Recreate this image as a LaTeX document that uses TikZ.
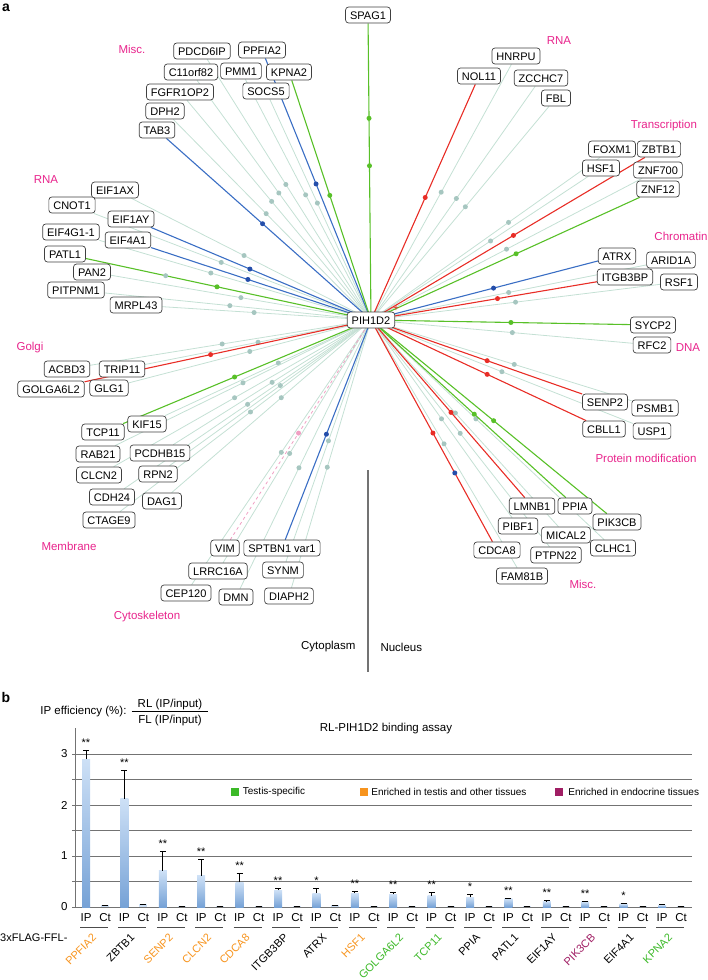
\documentclass[tikz,border=0pt]{standalone}
\usepackage{fontspec}
\setmainfont{Liberation Sans}
\usepackage{xcolor}
\definecolor{edgepale}{RGB}{196,224,212}
\definecolor{dotpale}{RGB}{166,198,192}
\definecolor{edgered}{RGB}{232,45,38}
\definecolor{edgeblue}{RGB}{58,110,196}
\definecolor{dotblue}{RGB}{36,78,170}
\definecolor{edgegreen}{RGB}{88,192,40}
\definecolor{edgepink}{RGB}{240,160,195}
\definecolor{catpink}{RGB}{232,36,140}
\definecolor{genorange}{RGB}{247,148,30}
\definecolor{gengreen}{RGB}{60,185,40}
\definecolor{genpurple}{RGB}{160,30,100}
\definecolor{barlight}{RGB}{205,224,246}
\definecolor{bardark}{RGB}{118,162,214}
\usetikzlibrary{backgrounds, positioning}

\begin{document}
\begin{tikzpicture}[x=1pt, y=-1pt,
    gene/.style={draw=black!75, line width=0.7pt, fill=white, rounded corners=3pt, font=\fontsize{11}{12}\selectfont, inner xsep=4.5pt, inner ysep=0pt, minimum height=16pt, text height=8pt, text depth=0pt},
    category/.style={text=catpink, font=\fontsize{11.5}{13}\selectfont},
    plain/.style={font=\fontsize{11.5}{13}\selectfont},
    paleline/.style={edgepale, line width=0.8pt},
    hitline/.style={line width=1.1pt},
    dot/.style={circle, inner sep=0pt, minimum size=5pt},
    gridline/.style={black!55, line width=0.8pt},
    errbar/.style={black, line width=0.9pt},
    legendbox/.style={minimum size=8pt, inner sep=0pt},
    legendtext/.style={font=\fontsize{10}{12}\selectfont, inner sep=0pt}
]
\useasboundingbox (0,0) rectangle (707,980);

%% panel a
\node[font=\bfseries\fontsize{14}{14}\selectfont] (panela) at (6,8) {a};

% hub
\node[gene] (hub) at (371,320) {PIH1D2};
\node[text=edgered, font=\fontsize{10}{10}\selectfont, inner sep=0pt] (plus) at (396,309) {+};

% top
\node[gene] (spag1) at (368,15) {SPAG1};
\node[gene] (pdcd6ip) at (202,51) {PDCD6IP};
\node[gene] (ppfia2) at (262,50) {PPFIA2};
\node[gene] (c11orf82) at (191,72) {C11orf82};
\node[gene] (pmm1) at (241,71) {PMM1};
\node[gene] (kpna2) at (289,72) {KPNA2};
\node[gene] (fgfr1op2) at (180,92) {FGFR1OP2};
\node[gene] (socs5) at (266,91) {SOCS5};
\node[gene] (dph2) at (165,111) {DPH2};
\node[gene] (tab3) at (157,130) {TAB3};

% left RNA
\node[gene] (eif1ax) at (115,190) {EIF1AX};
\node[gene] (cnot1) at (72,205) {CNOT1};
\node[gene] (eif1ay) at (131,219) {EIF1AY};
\node[gene] (eif4g1) at (71,232) {EIF4G1-1};
\node[gene] (eif4a1) at (128,240) {EIF4A1};
\node[gene] (patl1) at (65,254) {PATL1};
\node[gene] (pan2) at (92,272) {PAN2};
\node[gene] (pitpnm1) at (76,290) {PITPNM1};
\node[gene] (mrpl43) at (136,305) {MRPL43};

% Golgi and membrane
\node[gene] (acbd3) at (67,369) {ACBD3};
\node[gene] (trip11) at (122,369) {TRIP11};
\node[gene] (golga6l2) at (51,389) {GOLGA6L2};
\node[gene] (glg1) at (109,388) {GLG1};
\node[gene] (kif15) at (147,424) {KIF15};
\node[gene] (tcp11) at (103,432) {TCP11};
\node[gene] (rab21) at (98,454) {RAB21};
\node[gene] (pcdhb15) at (160,453) {PCDHB15};
\node[gene] (clcn2) at (99,475) {CLCN2};
\node[gene] (rpn2) at (158,474) {RPN2};
\node[gene] (cdh24) at (112,497) {CDH24};
\node[gene] (dag1) at (162,501) {DAG1};
\node[gene] (ctage9) at (109,520) {CTAGE9};

% cytoskeleton
\node[gene] (vim) at (225,548) {VIM};
\node[gene] (sptbn1) at (282,548) {SPTBN1 var1};
\node[gene] (lrrc16a) at (218,571) {LRRC16A};
\node[gene] (synm) at (283,570) {SYNM};
\node[gene] (cep120) at (186,593) {CEP120};
\node[gene] (dmn) at (236,597) {DMN};
\node[gene] (diaph2) at (289,596) {DIAPH2};

% right RNA, transcription, chromatin
\node[gene] (hnrpu) at (516,56) {HNRPU};
\node[gene] (nol11) at (479,76) {NOL11};
\node[gene] (zcchc7) at (541,78) {ZCCHC7};
\node[gene] (fbl) at (556,98) {FBL};
\node[gene] (foxm1) at (612,149) {FOXM1};
\node[gene] (zbtb1) at (659,149) {ZBTB1};
\node[gene] (hsf1) at (601,168) {HSF1};
\node[gene] (znf700) at (658,170) {ZNF700};
\node[gene] (znf12) at (658,189) {ZNF12};
\node[gene] (atrx) at (617,256) {ATRX};
\node[gene] (arid1a) at (671,260) {ARID1A};
\node[gene] (itgb3bp) at (625,277) {ITGB3BP};
\node[gene] (rsf1) at (679,282) {RSF1};

% DNA, protein modification, misc
\node[gene] (sycp2) at (653,325) {SYCP2};
\node[gene] (rfc2) at (652,345) {RFC2};
\node[gene] (senp2) at (605,402) {SENP2};
\node[gene] (psmb1) at (655,408) {PSMB1};
\node[gene] (cbll1) at (604,429) {CBLL1};
\node[gene] (usp1) at (652,431) {USP1};
\node[gene] (lmnb1) at (532,506) {LMNB1};
\node[gene] (ppia) at (575,506) {PPIA};
\node[gene] (pik3cb) at (617,522) {PIK3CB};
\node[gene] (pibf1) at (518,526) {PIBF1};
\node[gene] (mical2) at (566,535) {MICAL2};
\node[gene] (clhc1) at (613,548) {CLHC1};
\node[gene] (cdca8) at (497,550) {CDCA8};
\node[gene] (ptpn22) at (556,555) {PTPN22};
\node[gene] (fam81b) at (522,576) {FAM81B};

% categories
\node[category] (catmisca) at (132,49) {Misc.};
\node[category] (catrnaa) at (46,180) {RNA};
\node[category] (catgolgi) at (30,348) {Golgi};
\node[category] (catmembrane) at (69,546) {Membrane};
\node[category] (catcyto) at (147,617) {Cytoskeleton};
\node[category] (catrnab) at (559,41) {RNA};
\node[category] (cattrans) at (664,126) {Transcription};
\node[category] (catchrom) at (681,236) {Chromatin};
\node[category] (catdna) at (688,348) {DNA};
\node[category] (catprot) at (646,458) {Protein modification};
\node[category] (catmiscb) at (583,584) {Misc.};

% cytoplasm | nucleus
\draw[black!55, line width=1.2pt] (368,470) -- (368,672);
\node[plain, anchor=east] (cytoplasm) at (359,647) {Cytoplasm};
\node[plain, anchor=west] (nucleus) at (377,647) {Nucleus};

% connectors
\begin{pgfonlayer}{background}
\foreach \n/\p in {pdcd6ip/0.52, c11orf82/0.53, pmm1/0.52, fgfr1op2/0.54, socs5/0.53, dph2/0.53,
    eif1ax/0.53, cnot1/0.54, eif4g1/0.59, pan2/0.5, pitpnm1/0.53, mrpl43/0.56,
    acbd3/0.53, trip11/0.5, glg1/0.5, kif15/0.45, rab21/0.5, pcdhb15/0.5, clcn2/0.53,
    rpn2/0.45, cdh24/0.5, dag1/0.45, ctage9/0.48,
    lrrc16a/0.55, synm/0.5, cep120/0.5, dmn/0.55, diaph2/0.55,
    hnrpu/0.5, zcchc7/0.52, fbl/0.53, foxm1/0.6, hsf1/0.55, znf700/0.5,
    arid1a/0.5, rsf1/0.5, rfc2/0.54, psmb1/0.55, usp1/0.5,
    pibf1/0.5, mical2/0.45, clhc1/0.45, ptpn22/0.5, fam81b/0.5}
  \draw[paleline] (hub.center) -- (\n) node[pos=\p, dot, fill=dotpale] {};
\draw[edgepink, line width=0.8pt, dashed] (hub.center) -- (vim) node[pos=0.515, dot, fill=edgepink] {};
\foreach \n/\clr/\dclr/\p in {ppfia2/edgeblue/dotblue/0.52, kpna2/edgegreen/edgegreen/0.52,
    tab3/edgeblue/dotblue/0.53, eif1ay/edgeblue/dotblue/0.55, eif4a1/edgeblue/dotblue/0.56,
    golga6l2/edgered/edgered/0.56, tcp11/edgegreen/edgegreen/0.55, sptbn1/edgeblue/dotblue/0.52,
    nol11/edgered/edgered/0.52, zbtb1/edgered/edgered/0.52, znf12/edgegreen/edgegreen/0.54,
    atrx/edgeblue/dotblue/0.54, itgb3bp/edgered/edgered/0.56, sycp2/edgegreen/edgegreen/0.54,
    senp2/edgered/edgered/0.55, cbll1/edgered/edgered/0.54, lmnb1/edgered/edgered/0.52,
    ppia/edgegreen/edgegreen/0.53, pik3cb/edgegreen/edgegreen/0.52}
  \draw[hitline, \clr] (hub.center) -- (\n) node[pos=\p, dot, fill=\dclr] {};
\draw[hitline, edgegreen] (hub.center) -- (spag1)
    node[pos=0.52, dot, fill=edgegreen] {} node[pos=0.68, dot, fill=edgegreen] {};
\draw[hitline, edgegreen] (hub.center) -- (patl1)
    node[pos=0.54, dot, fill=edgegreen] {} node[pos=0.72, dot, fill=dotpale] {};
\draw[hitline, edgered] (hub.center) -- (cdca8)
    node[pos=0.51, dot, fill=edgered] {} node[pos=0.69, dot, fill=dotblue] {};
\end{pgfonlayer}

%% panel b
\node[font=\bfseries\fontsize{14}{14}\selectfont] (panelb) at (6,697) {b};
\node[plain, anchor=east] (ipeff) at (130,712) {IP efficiency (\%):};
\node[plain, inner sep=0pt] (frac) at (170,713) {\begin{tabular}{@{\hspace{6pt}}c@{\hspace{6pt}}}RL (IP/input)\\[-1pt]\hline\rule{0pt}{12pt}FL (IP/input)\end{tabular}};
\node[plain] (title) at (386,729) {RL-PIH1D2 binding assay};

% axis and grid
\foreach \t in {0.5,1,...,3}
  \draw[gridline] (75,{907-51*\t}) -- (692,{907-51*\t});
\draw[gridline] (75,907) -- (692,907);
\draw[gridline] (75,907) -- (75,728);
\foreach \t in {0,0.5,...,3}
  \draw[gridline] (72,{907-51*\t}) -- (75,{907-51*\t});
\foreach \t in {0,...,3}
  \node[plain, anchor=east] at (71,{907-51*\t}) {\t};

% legend
\node[legendbox, fill=gengreen] (lgtestis) at (234.5,792) {};
\node[legendtext, right=4pt of lgtestis] (lgtestistext) {Testis-specific};
\node[legendbox, fill=genorange] (lgenriched) at (364,792) {};
\node[legendtext, right=3pt of lgenriched] (lgenrichedtext) {Enriched in testis and other tissues};
\node[legendbox, fill=genpurple] (lgendo) at (559,792) {};
\node[legendtext, right=5pt of lgendo] (lgendotext) {Enriched in endocrine tissues};

% bars
\node[font=\fontsize{11}{12}\selectfont, anchor=west, inner sep=0pt] (flag) at (0,938) {3xFLAG-FFL-};
\foreach \gname/\gclr/\ipv/\errv/\stars/\ctv [count=\idx from 0] in {
    PPFIA2/genorange/2.90/3.06/**/0.04, ZBTB1/black/2.12/2.67/**/0.05,
    SENP2/genorange/0.71/1.08/**/0.015, CLCN2/genorange/0.61/0.94/**/0.015,
    CDCA8/genorange/0.49/0.66/**/0.015, ITGB3BP/black/0.33/0.37/**/0.015,
    ATRX/black/0.27/0.37/*/0.04, HSF1/genorange/0.27/0.31/**/0.015,
    GOLGA6L2/gengreen/0.25/0.28/**/0.015, TCP11/gengreen/0.22/0.28/**/0.015,
    PPIA/black/0.19/0.25/*/0.02, PATL1/black/0.16/0.17/**/0.015,
    EIF1AY/black/0.11/0.12/**/0.015, PIK3CB/genpurple/0.10/0.11/**/0.015,
    EIF4A1/black/0.06/0.07/*/0.015, KPNA2/gengreen/0.04/0.05/{}/0.015}{
  \pgfmathsetmacro\xa{86+38.4*\idx}
  \pgfmathsetmacro\xb{\xa+19}
  \shade[top color=barlight, bottom color=bardark] (\xa-4,907) rectangle (\xa+4,{907-51*\ipv});
  \draw[errbar] (\xa,{907-51*\ipv}) -- (\xa,{907-51*\errv});
  \draw[errbar] (\xa-3,{907-51*\errv}) -- (\xa+3,{907-51*\errv});
  \node[anchor=base, font=\fontsize{11}{11}\selectfont, inner sep=0pt] at (\xa,{907-51*\errv-4}) {\stars};
  \fill[barlight] (\xb-4,907) rectangle (\xb+4,{907-51*\ctv});
  \draw[errbar] (\xb-3,{907-51*\ctv}) -- (\xb+3,{907-51*\ctv});
  \node[plain] at (\xa,918) {IP};
  \node[plain] at (\xb,918) {Ct};
  \draw[black!70, line width=0.7pt] (\xa-6,927) -- (\xb+3,927);
  \node[font=\fontsize{11}{12}\selectfont, rotate=45, anchor=east, text=\gclr, inner sep=1pt] at (\xa+9,935) {\gname};
}
\end{tikzpicture}
\end{document}
